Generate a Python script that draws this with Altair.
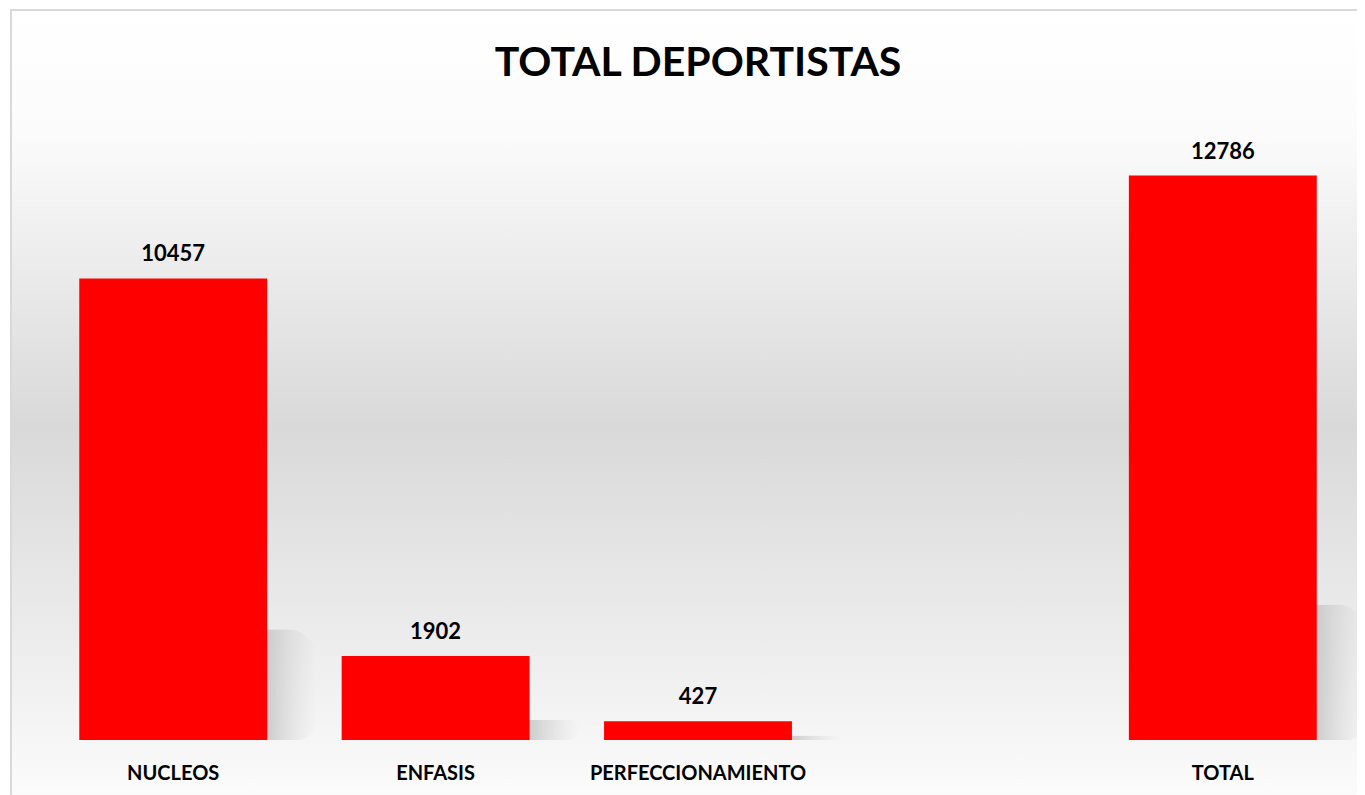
import altair as alt
import pandas as pd

TITLE = "TOTAL DEPORTISTAS"
categories = ["NUCLEOS", "ENFASIS", "PERFECCIONAMIENTO", " ", "TOTAL"]
bar_categories = ["NUCLEOS", "ENFASIS", "PERFECCIONAMIENTO", "TOTAL"]
values = [10457, 1902, 427, 12786]

df = pd.DataFrame({"cat": bar_categories, "value": values})
FONT = "Lato"

xscale = alt.Scale(domain=categories, paddingInner=0.284, paddingOuter=0.142)
yscale = alt.Scale(domain=[0, 14000], nice=False)

x = alt.X("cat:N", scale=xscale, sort=categories,
          axis=alt.Axis(title=None, domain=False, ticks=False, labelAngle=0,
                        labelFont=FONT, labelFontWeight="bold", labelFontSize=20,
                        labelColor="#000000", labelPadding=23, labelBaseline="top",
                        labelLimit=0, zindex=5))
y = alt.Y("value:Q", scale=yscale, axis=None)

bg_grad = alt.Gradient(
    gradient="linear", x1=0, y1=0, x2=0, y2=1,
    stops=[alt.GradientStop(offset=0.0, color="#ffffff"),
           alt.GradientStop(offset=0.15, color="#fbfbfb"),
           alt.GradientStop(offset=0.50, color="#d9d9d9"),
           alt.GradientStop(offset=0.75, color="#ececec"),
           alt.GradientStop(offset=0.97, color="#fdfdfd"),
           alt.GradientStop(offset=1.0, color="#ffffff")])

background = alt.Chart(df).mark_rect(
    color=bg_grad, stroke="#d9d9d9", strokeWidth=2, clip=False
).encode(x=alt.value(-31), x2=alt.value(1360), y=alt.value(-112), y2=alt.value(720))

shadow_grad = alt.Gradient(
    gradient="linear", x1=0, y1=0, x2=1, y2=0,
    stops=[alt.GradientStop(offset=0.0, color="#bdbdbd"),
           alt.GradientStop(offset=0.72, color="#c2c2c2"),
           alt.GradientStop(offset=1.0, color="rgba(215,215,215,0)")])

shadow = alt.Chart(df).transform_calculate(
    sh="datum.value * 0.24"
).mark_bar(color=shadow_grad, xOffset=50, opacity=0.85, cornerRadiusTopRight=30,
           cornerRadiusBottomRight=20).encode(
    x=x, y=alt.Y("sh:Q", scale=yscale, axis=None))

bars = alt.Chart(df).mark_bar(color="#ff0000").encode(x=x, y=y)

labels = alt.Chart(df).mark_text(
    font=FONT, fontWeight="bold", fontSize=22, color="#000000",
    baseline="alphabetic", dy=-17
).encode(x=x, y=y, text=alt.Text("value:Q", format="d"))

title = alt.Chart(pd.DataFrame({"t": [TITLE]})).mark_text(
    font=FONT, fontWeight="bold", fontSize=41, color="#000000",
    baseline="alphabetic", align="center"
).encode(x=alt.value(656), y=alt.value(-46), text="t:N")

chart = alt.layer(background, shadow, bars, labels, title).properties(
    width=1312, height=618,
    autosize=alt.AutoSizeParams(type="none"),
    padding={"left": 34, "top": 114, "right": 3, "bottom": 55},
).configure_view(stroke=None).configure(background="#ffffff")

chart.save("out.html", embed_options={"renderer": "svg", "actions": False})
